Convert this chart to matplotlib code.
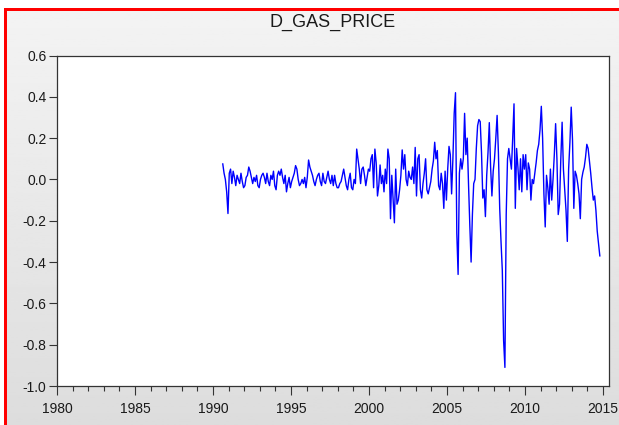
import numpy as np
import pandas as pd
import matplotlib
matplotlib.use('Agg')
import matplotlib.pyplot as plt
from matplotlib.patches import Rectangle

# series (monthly, first value = Aug 1990)
title = 'D_GAS_PRICE'
start_month = '1990-08'
d_gas_price = [
    0.075, 0.03, 0.0, -0.06, -0.165,                                          # 1990
    0.03, 0.05, -0.02, 0.04, 0.01, -0.03, 0.02, 0.0, -0.02, 0.03, -0.01, -0.04,  # 1991
    -0.03, 0.01, 0.02, 0.06, 0.04, 0.01, -0.02, 0.01, -0.01, 0.02, -0.03, -0.04,  # 1992
    0.0, 0.02, 0.03, 0.01, -0.02, 0.03, -0.01, -0.03, 0.02, 0.0, 0.04, -0.03,  # 1993
    -0.05, 0.02, 0.04, 0.02, 0.05, 0.01, -0.02, 0.02, -0.06, -0.02, 0.01, -0.04,  # 1994
    -0.01, 0.01, 0.03, 0.067, 0.05, 0.0, -0.03, -0.02, 0.0, -0.02, 0.01, -0.04,  # 1995
    0.01, 0.094, 0.06, 0.04, 0.02, -0.01, -0.03, 0.0, 0.02, 0.03, -0.01, -0.03,  # 1996
    0.03, -0.01, -0.02, 0.01, 0.04, 0.0, -0.02, 0.02, -0.03, 0.02, -0.02, -0.04,  # 1997
    -0.04, -0.02, -0.01, 0.02, 0.05, 0.01, -0.03, -0.05, 0.0, 0.03, -0.04, -0.05,  # 1998
    0.0, -0.02, 0.147, 0.1, 0.05, -0.02, 0.05, 0.06, 0.02, -0.03, 0.01, 0.05,  # 1999
    0.04, 0.1, 0.12, -0.04, 0.147, 0.08, -0.08, -0.03, 0.07, -0.02, 0.02, -0.06,  # 2000
    0.05, -0.02, 0.147, 0.1, -0.19, 0.02, -0.1, -0.21, 0.05, -0.12, -0.1, -0.05,  # 2001
    0.02, 0.143, 0.05, 0.12, 0.0, -0.03, 0.04, 0.01, 0.0, 0.06, -0.02, 0.155,  # 2002
    -0.08, 0.1, 0.12, -0.05, -0.09, -0.02, 0.03, 0.1, -0.05, -0.07, -0.04, -0.01,  # 2003
    0.05, 0.09, 0.18, 0.1, 0.14, -0.03, -0.05, 0.03, -0.02, -0.14, 0.04, -0.1,  # 2004
    0.05, 0.16, 0.12, -0.07, 0.1, 0.32, 0.42, -0.26, -0.46, 0.03, 0.1, 0.05,  # 2005
    0.1, 0.32, 0.12, 0.2, -0.02, -0.22, -0.40, -0.17, -0.02, 0.0, 0.15, 0.26,  # 2006
    0.29, 0.28, 0.13, -0.09, -0.05, -0.18, 0.02, 0.13, 0.275, 0.06, -0.08, 0.04,  # 2007
    0.1, 0.2, 0.31, 0.13, -0.14, -0.30, -0.44, -0.78, -0.91, -0.17, 0.1, 0.15,  # 2008
    0.1, 0.05, 0.2, 0.366, -0.14, 0.15, 0.06, -0.05, 0.1, -0.06, 0.12, 0.05,  # 2009
    0.12, -0.05, 0.08, 0.05, -0.1, 0.0, -0.02, 0.03, 0.08, 0.14, 0.17, 0.24,  # 2010
    0.354, 0.2, -0.07, -0.23, 0.02, -0.04, -0.12, 0.05, -0.1, 0.0, 0.12, 0.27,  # 2011
    0.1, -0.17, -0.12, 0.1, 0.277, 0.05, -0.05, -0.15, -0.30, 0.05, 0.18, 0.35,  # 2012
    0.19, -0.14, 0.04, 0.02, -0.02, -0.07, -0.19, 0.0, 0.035, 0.06, 0.107, 0.17,  # 2013
    0.15, 0.09, 0.03, -0.04, -0.1, -0.08, -0.15, -0.25, -0.31, -0.37,          # 2014
]
x_ticks = [1980, 1985, 1990, 1995, 2000, 2005, 2010, 2015]
x_minor = list(range(1980, 2016))
y_ticks = [0.6, 0.4, 0.2, 0.0, -0.2, -0.4, -0.6, -0.8, -1.0]
y_labels = ['0.6', '0.4', '0.2', '0.0', '-0.2', '-0.4', '-0.6', '-0.8', '-1.0']

dates = pd.date_range(start_month, periods=len(d_gas_price), freq='MS')
t = dates.year + (dates.month - 0.5) / 12

plt.rcParams['font.family'] = ['Liberation Sans', 'DejaVu Sans']

W, H = 619, 425
fig = plt.figure(figsize=(W / 100, H / 100), dpi=100)
fig.patch.set_facecolor('white')

# grey window background (light gradient)
bg = fig.add_axes([7 / W, 0, 1 - 7 / W, (H - 11) / H])
grad = np.linspace(0.953, 0.865, 256).reshape(-1, 1)
bg.imshow(grad, cmap='gray', vmin=0, vmax=1, aspect='auto', extent=[0, 1, 0, 1])
bg.set_axis_off()

# red window frame (left + top)
fig.add_artist(Rectangle((4 / W, 0), 3 / W, (H - 8) / H, transform=fig.transFigure,
                         facecolor='#ff0000', edgecolor='none'))
fig.add_artist(Rectangle((4 / W, (H - 11) / H), 1 - 4 / W, 3 / H, transform=fig.transFigure,
                         facecolor='#ff0000', edgecolor='none'))

ax = fig.add_axes([57 / W, 1 - 386 / H, (609 - 57) / W, (386 - 55.5) / H])
ax.set_facecolor('white')
ax.plot(t, d_gas_price, color='#0000ff', lw=1.0)

ax.set_xlim(1980, 2015.38)
ax.set_ylim(-1.0, 0.6)
ax.set_xticks(x_ticks)
ax.set_xticks(x_minor, minor=True)
ax.set_yticks(y_ticks)
ax.set_yticklabels(y_labels)

for s in ax.spines.values():
    s.set_color('#333333')
    s.set_linewidth(0.9)

ax.tick_params(axis='x', which='major', direction='out', length=6.5, width=0.8,
               color='#333333', labelsize=10, labelcolor='#1a1a1a', pad=5)
ax.tick_params(axis='x', which='minor', direction='out', length=3.5, width=0.8, color='#333333')
ax.tick_params(axis='y', which='major', direction='out', length=6, width=0.8,
               color='#333333', labelsize=10, labelcolor='#1a1a1a', pad=1.5)

fig.text(333 / W, 1 - 22 / H, title, ha='center', va='center', fontsize=13, color='#1a1a1a')

fig.savefig('out.png', dpi=100)
